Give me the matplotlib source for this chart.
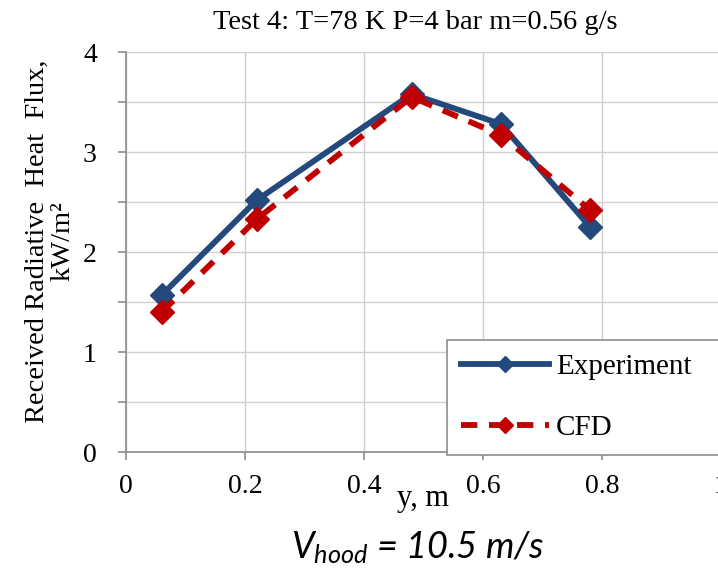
import matplotlib.pyplot as plt
from matplotlib.ticker import MultipleLocator

plt.rcParams['font.family'] = ['Liberation Serif', 'DejaVu Serif']
plt.rcParams['mathtext.fontset'] = 'custom'
plt.rcParams['mathtext.it'] = 'Lato:italic'
plt.rcParams['mathtext.rm'] = 'Lato'

# data
y_pos = [0.06, 0.22, 0.48, 0.63, 0.78]
experiment = [1.57, 2.52, 3.58, 3.28, 2.25]
cfd = [1.40, 2.33, 3.55, 3.17, 2.42]

x_ticks = [0, 0.2, 0.4, 0.6, 0.8, 1.0]
x_tick_labels = ['0', '0.2', '0.4', '0.6', '0.8', '1']
y_ticks = [0, 1, 2, 3, 4]

fig = plt.figure(figsize=(7.18, 5.68), dpi=100)
ax = fig.add_axes([0.1755, 0.2042, 0.8287, 0.7042])

ax.plot(y_pos, experiment, color='#24497c', lw=4.2, marker='D', ms=12,
        label='Experiment', zorder=3)
ax.plot(y_pos, cfd, color='#c00000', lw=4.2, ls=(0, (2.8, 2.0)), marker='D',
        ms=12, label='CFD', zorder=4)

ax.set_xlim(0, 1)
ax.set_ylim(0, 4)
ax.set_xticks(x_ticks)
ax.set_xticklabels(x_tick_labels)
ax.set_yticks(y_ticks)
ax.yaxis.set_minor_locator(MultipleLocator(0.5))

ax.grid(True, which='both', color='#d0d0d0', lw=1)
ax.set_axisbelow(True)
for s in ['top', 'right']:
    ax.spines[s].set_visible(False)
for s in ['left', 'bottom']:
    ax.spines[s].set_color('#8c8c8c')
    ax.spines[s].set_linewidth(1.2)
ax.tick_params(axis='both', which='both', color='#8c8c8c', length=6,
               width=1.2, labelsize=20)
ax.tick_params(axis='y', pad=15)
ax.tick_params(axis='x', pad=10)

fig.text(0.579, 0.961, 'Test 4: T=78 K P=4 bar m=0.56 g/s', fontsize=20.5,
         ha='center', va='center')
fig.text(0.0696, 0.5757, 'Received Radiative  Heat  Flux,\nkW/m\u00b2',
         fontsize=20.5, rotation=90, ha='center', va='center',
         linespacing=1.05, multialignment='center')
fig.text(0.589, 0.123, 'y, m', fontsize=22, ha='center', va='center')
fig.text(0.582, 0.036, r'$\mathit{V}_{\mathit{hood}}$ = 10.5 m/s',
         fontsize=26, ha='center', va='center', family='Lato',
         style='italic')

leg = ax.legend(loc='lower left', bbox_to_anchor=(0.5395, -0.0075, 0.47, 0.30),
                mode='expand', borderaxespad=0, fontsize=21, handlelength=3.0,
                handletextpad=0.25, labelspacing=1.17, fancybox=False,
                edgecolor='#8c8c8c', framealpha=1, borderpad=0.48)
leg.get_frame().set_linewidth(1.2)
for h in leg.legend_handles:
    h.set_markersize(8)

fig.savefig('out.png', dpi=100)
